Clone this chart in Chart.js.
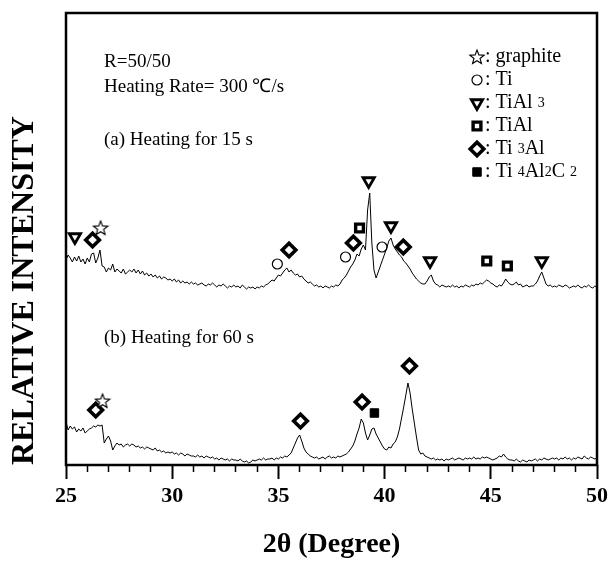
<!DOCTYPE html>
<html lang="en">
<head>
<meta charset="UTF-8">
<title>XRD pattern - R=50/50, 300 C/s</title>
<script src="https://cdn.jsdelivr.net/npm/chart.js"></script>
<style>
  html, body { margin: 0; padding: 0; background: #fff; }
  #wrap { width: 612px; height: 564px; }
</style>
</head>
<body>
<div id="wrap"><canvas id="xrdChart" width="612" height="564"></canvas></div>
<script>
// 2theta grid, 0.1 degree steps from 25 to 50
const twoTheta = [];
for (let i = 0; i <= 250; i++) twoTheta.push(+(25 + i * 0.1).toFixed(1));

// (a) heating for 15 s  (arbitrary units)
const patternA = [
  205, 210, 207, 203, 208, 204, 209, 203, 206, 201,
  207, 203, 211, 212, 202, 207, 215, 199, 198, 193,
  197, 195, 201, 193, 196, 194, 192, 196, 191, 193,
  195, 193, 196, 192, 195, 191, 194, 190, 192, 189,
  191, 188, 190, 187, 189, 186, 188, 187, 185, 186,
  184, 186, 183, 185, 182, 184, 182, 183, 181, 183,
  181, 182, 180, 181, 182, 180, 179, 181, 180, 182,
  180, 178, 180, 179, 181, 179, 177, 179, 178, 180,
  178, 179, 177, 180, 178, 176, 178, 177, 178, 176,
  178, 177, 179, 178, 180, 181, 183, 185, 184, 187,
  190, 189, 192, 195, 197, 193, 195, 192, 190, 191,
  188, 189, 186, 184, 182, 183, 181, 179, 180, 178,
  179, 177, 179, 178, 177, 179, 178, 180, 179, 181,
  185, 187, 190, 194, 198, 201, 205, 211, 209, 216,
  220, 215, 255, 272, 222, 195, 187, 193, 199, 205,
  211, 217, 224, 227, 220, 216, 213, 210, 208, 204,
  202, 199, 196, 192, 189, 186, 184, 182, 181, 181,
  184, 188, 190, 184, 181, 180, 178, 180, 179, 178,
  179, 178, 180, 178, 179, 177, 179, 178, 180, 179,
  178, 180, 179, 181, 180, 182, 181, 183, 185, 184,
  182, 181, 179, 178, 180, 179, 182, 186, 183, 181,
  180, 181, 183, 180, 181, 178, 179, 180, 178, 179,
  179, 181, 184, 189, 193, 187, 181, 179, 180, 178,
  179, 178, 180, 179, 178, 180, 179, 177, 178, 179,
  178, 180, 178, 177, 179, 178, 180, 178, 177, 179,
  178
];

// (b) heating for 60 s
const patternB = [
  43, 35, 39, 36, 38, 33, 36, 34, 37, 32,
  34, 36, 37, 39, 38, 40, 39, 40, 22, 26,
  29, 24, 15, 19, 22, 20, 21, 18, 20, 21,
  19, 21, 20, 18, 19, 17, 18, 16, 18, 17,
  16, 15, 17, 14, 15, 13, 14, 12, 13, 12,
  13, 11, 12, 10, 12, 11, 9, 11, 10, 9,
  9, 8, 10, 8, 9, 7, 9, 8, 7, 8,
  6, 7, 5, 7, 6, 5, 6, 4, 6, 5,
  5, 4, 6, 4, 3, 4, 2, 3, 5, 4,
  5, 6, 5, 7, 5, 6, 6, 7, 5, 7,
  6, 8, 7, 9, 8, 10, 12, 17, 22, 27,
  30, 24, 17, 13, 11, 9, 8, 7, 8, 6,
  7, 8, 6, 8, 9, 7, 8, 7, 9, 8,
  9, 10, 11, 13, 16, 19, 24, 31, 37, 46,
  42, 32, 25, 30, 36, 37, 31, 27, 23, 19,
  16, 15, 18, 17, 21, 23, 28, 36, 47, 58,
  70, 82, 72, 56, 42, 28, 15, 11, 12, 9,
  8, 7, 6, 7, 5, 6, 5, 6, 4, 6,
  5, 6, 7, 5, 6, 7, 6, 5, 7, 6,
  7, 6, 8, 6, 7, 6, 8, 7, 8, 7,
  6, 5, 6, 7, 9, 8, 11, 8, 6, 5,
  5, 4, 6, 4, 3, 5, 4, 3, 5, 4,
  5, 6, 4, 6, 5, 7, 6, 5, 6, 7,
  6, 7, 5, 7, 6, 8, 6, 7, 5, 7,
  6, 8, 7, 6, 9, 7, 6, 8, 7, 6,
  7
];

// phase markers [2theta, height]
const graphitePeaks = [[26.63, 237], [26.72, 64]];
const tiPeaks       = [[34.95, 201], [38.16, 208], [39.88, 218]];
const tiAl3Peaks    = [[25.42, 228], [39.25, 284], [40.3, 239], [42.14, 204], [47.4, 204]];
const tiAlPeaks     = [[38.82, 237], [44.81, 204], [45.78, 199]];
const ti3AlPeaks    = [[26.25, 225], [35.5, 215], [38.53, 222], [40.88, 218],
                       [26.4, 55], [36.04, 44], [38.94, 63], [41.17, 99]];
const ti4Al2C2Peaks = [[39.52, 52]];

const xTicks = [25, 30, 35, 40, 45, 50];

const SERIF = "'Liberation Serif', 'Times New Roman', serif";

// open five point star for graphite
function makeStar() {
    const c = document.createElement('canvas');
    c.width = 18; c.height = 18;
    const g = c.getContext('2d');
    g.beginPath();
    for (let i = 0; i < 10; i++) {
        const r = i % 2 === 0 ? 7.5 : 3.2;
        const a = -Math.PI / 2 + i * Math.PI / 5;
        const px = 9 + r * Math.cos(a), py = 9.5 + r * Math.sin(a);
        if (i === 0) g.moveTo(px, py); else g.lineTo(px, py);
    }
    g.closePath();
    g.fillStyle = '#fff';
    g.fill();
    g.lineWidth = 1.1;
    g.strokeStyle = '#000';
    g.stroke();
    return c;
}
const starImg = makeStar();

const styles = {
    graphite: { pointStyle: starImg, radius: 8, borderWidth: 0, bg: '#fff', rotation: 0 },
    ti:       { pointStyle: 'circle', radius: 5, borderWidth: 1.2, bg: '#fff', rotation: 0 },
    tiAl3:    { pointStyle: 'triangle', radius: 6.5, borderWidth: 2.8, bg: '#fff', rotation: 180 },
    tiAl:     { pointStyle: 'rect', radius: 5.5, borderWidth: 3.4, bg: '#fff', rotation: 0 },
    ti3Al:    { pointStyle: 'rectRot', radius: 6.8, borderWidth: 3.6, bg: '#fff', rotation: 0 },
    ti4Al2C2: { pointStyle: 'rect', radius: 6, borderWidth: 1, bg: '#000', rotation: 0 }
};

function toPts(arr) { return arr.map(p => ({ x: p[0], y: p[1] })); }

function markerSet(label, arr, st) {
    return {
        label: label,
        data: toPts(arr),
        showLine: false,
        pointStyle: st.pointStyle,
        pointRadius: st.radius,
        pointBorderWidth: st.borderWidth,
        pointRotation: st.rotation,
        pointBackgroundColor: st.bg,
        pointBorderColor: '#000'
    };
}

// legend rows: symbol key + text pieces [text, size]
const legendRows = [
    ['graphite', [[': graphite', 20]]],
    ['ti',       [[': Ti', 20]]],
    ['tiAl3',    [[': TiAl ', 20], ['3', 14]]],
    ['tiAl',     [[': TiAl', 20]]],
    ['ti3Al',    [[': Ti ', 20], ['3', 14], ['Al', 20]]],
    ['ti4Al2C2', [[': Ti ', 20], ['4', 14], ['Al', 20], ['2', 14], ['C ', 20], ['2', 14]]]
];

const annotations = {
    id: 'annotations',
    afterDraw(chart) {
        const ctx = chart.ctx;
        const a = chart.chartArea;
        ctx.save();
        // frame
        ctx.strokeStyle = '#000';
        ctx.lineWidth = 2.5;
        ctx.strokeRect(a.left, a.top, a.right - a.left, a.bottom - a.top);

        // notes
        ctx.fillStyle = '#000';
        ctx.textBaseline = 'middle';
        ctx.textAlign = 'left';
        ctx.font = '19px ' + SERIF;
        ctx.fillText('R=50/50', 104, 62);
        ctx.fillText('Heating Rate= 300 \u2103/s', 104, 87);
        ctx.fillText('(a) Heating for 15 s', 104, 140);
        ctx.fillText('(b) Heating for 60 s', 104, 338);

        // legend
        const dp = Chart.helpers.drawPoint;
        legendRows.forEach((row, i) => {
            const y = 57 + i * 23;
            const st = styles[row[0]];
            ctx.fillStyle = st.bg;
            ctx.strokeStyle = '#000';
            ctx.lineWidth = st.borderWidth;
            dp(ctx, { pointStyle: st.pointStyle, rotation: st.rotation, radius: st.radius, borderWidth: st.borderWidth }, 477, y);
            let x = 485;
            ctx.fillStyle = '#000';
            row[1].forEach(seg => {
                ctx.font = seg[1] + 'px ' + SERIF;
                ctx.fillText(seg[0], x, y);
                x += ctx.measureText(seg[0]).width;
            });
        });
        ctx.restore();
    }
};

new Chart(document.getElementById('xrdChart'), {
    type: 'scatter',
    data: {
        datasets: [
            { label: '(a) 15 s', data: twoTheta.map((t, i) => ({ x: t, y: patternA[i] })), showLine: true,
              borderColor: '#000', borderWidth: 1, pointRadius: 0, tension: 0 },
            { label: '(b) 60 s', data: twoTheta.map((t, i) => ({ x: t, y: patternB[i] })), showLine: true,
              borderColor: '#000', borderWidth: 1, pointRadius: 0, tension: 0 },
            markerSet('graphite', graphitePeaks, styles.graphite),
            markerSet('Ti', tiPeaks, styles.ti),
            markerSet('TiAl3', tiAl3Peaks, styles.tiAl3),
            markerSet('TiAl', tiAlPeaks, styles.tiAl),
            markerSet('Ti3Al', ti3AlPeaks, styles.ti3Al),
            markerSet('Ti4Al2C2', ti4Al2C2Peaks, styles.ti4Al2C2)
        ]
    },
    options: {
        responsive: false,
        animation: false,
        devicePixelRatio: 1,
        layout: { padding: { top: 13, right: 14, left: 0, bottom: 0 } },
        plugins: { legend: { display: false }, tooltip: { enabled: false } },
        scales: {
            x: {
                type: 'linear', min: 25, max: 50,
                afterFit(s) { s.height = 99; },
                border: { display: false },
                grid: {
                    display: true, drawOnChartArea: false, drawTicks: true, tickLength: 14,
                    tickColor: '#000',
                    tickWidth: c => (c.tick && xTicks.includes(c.tick.value)) ? 2 : 1.5,
                    tickBorderDash: c => (c.tick && xTicks.includes(c.tick.value)) ? [] : [7, 30]
                },
                ticks: {
                    stepSize: 1, autoSkip: false, maxRotation: 0, padding: 4, color: '#000',
                    font: { family: SERIF, size: 22, weight: 'bold' },
                    callback: v => xTicks.includes(v) ? v : ''
                },
                title: {
                    display: true, text: '2\u03b8 (Degree)', color: '#000',
                    font: { family: SERIF, size: 28, weight: 'bold' },
                    padding: { top: 0, bottom: 2 }
                }
            },
            y: {
                type: 'linear', min: 0, max: 452,
                afterFit(s) { s.width = 66; },
                border: { display: false },
                grid: { display: false },
                ticks: { display: false },
                title: {
                    display: true, text: 'RELATIVE INTENSITY', color: '#000', align: 'start',
                    font: { family: SERIF, size: 32, weight: 'bold' },
                    padding: { top: 6, bottom: 0 }
                }
            }
        }
    },
    plugins: [annotations]
});
</script>
</body>
</html>
